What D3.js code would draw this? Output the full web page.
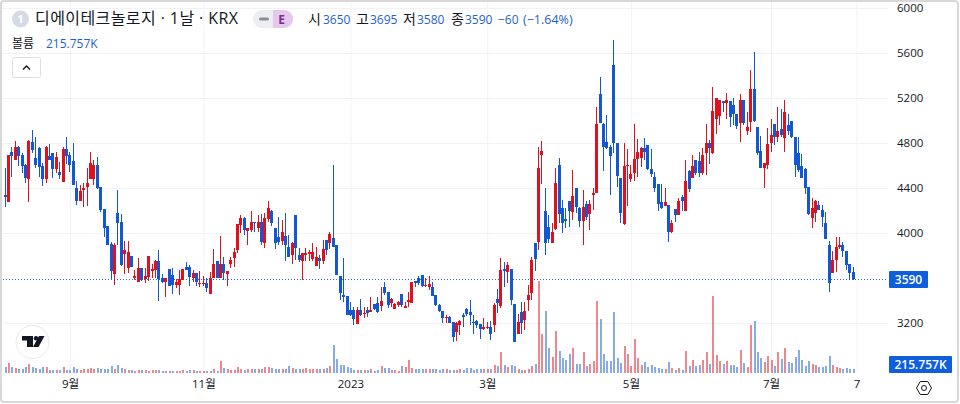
<!DOCTYPE html>
<html>
<head>
<meta charset="utf-8">
<script src="https://cdn.jsdelivr.net/npm/d3@7"></script>
<style>
    html, body { margin: 0; padding: 0; background: #fff; overflow: hidden; }
    svg { display: block; font-family: "Open Sans", "Noto Sans CJK KR", sans-serif; }
    .axis-label text { fill: #131722; font-size: 11.5px; font-family: "Open Sans", "Noto Sans CJK KR", sans-serif; }
    .axis-label path, .axis-label line { display: none; }
    .grid path { display: none; }
    .grid line { stroke: #f1f2f5; }
</style>
</head>
<body>
<div id="chart"></div>
<script>
// daily candles, oldest first
const opens = [
    4337,4278,4720,4648,4761,4693,4604,4480,4806,4666,4755,4595,4480,4684,4708,4568,4542,4453,4746,4693,
    4640,4397,4284,4379,4405,4480,4480,4604,4405,4210,4062,3902,3635,4174,4097,3813,3686,3795,3600,3567,
    3688,3588,3611,3665,3671,3751,3600,3564,3680,3626,3537,3537,3582,3697,3697,3602,3641,3543,3546,3555,
    3454,3597,3751,3602,3724,3638,3724,3774,3848,4071,4130,4020,4026,4095,4047,4101,3914,4124,4195,4047,
    3967,3932,3973,3878,3804,4160,3804,3754,3804,3810,3769,3706,3781,3751,3938,3914,3958,3893,3618,3449,
    3440,3315,3315,3191,3315,3280,3315,3301,3369,3375,3351,3523,3478,3380,3324,3360,3458,3336,3386,3380,
    3573,3597,3626,3526,3523,3517,3449,3360,3309,3241,3250,3206,3123,3182,3268,3321,3298,3209,3221,3188,
    3149,3155,3161,3182,3410,3354,3680,3656,3680,3369,3102,3298,3227,3404,3467,3908,3922,4693,4195,4056,
    3908,4035,4604,4225,4124,4284,4189,4397,4225,4106,4257,4168,4340,4358,5232,4968,4805,4761,5493,4802,
    4485,4077,4595,4479,4530,4657,4669,4758,4779,4565,4494,4435,4275,4242,4248,4008,4210,4162,4322,4198,
    4551,4485,4648,4642,4537,4709,4797,4709,5014,5040,5177,5159,5171,5135,5058,4975,5183,4910,4990,5277,
    4940,4729,4581,4605,4803,4969,4857,4922,4848,4960,4996,4851,4709,4596,4566,4409,4137,4175,4249,4202,
    4089,3894,3642,3760,3873,3894,3840,3725,3650
];
const highs = [
    4575,4693,4761,4815,4773,4708,4613,4826,4915,4850,4761,4619,4773,4791,4708,4723,4634,4761,4850,4720,
    4797,4462,4426,4441,4574,4723,4648,4672,4411,4210,4062,3923,3908,4382,4165,3928,3928,3795,3671,3774,
    3691,3686,3795,3724,3760,3848,3635,3597,3680,3686,3588,3671,3677,3745,3712,3671,3647,3665,3620,3597,
    3656,3854,3754,3973,3783,3662,3789,3863,4080,4160,4139,4041,4195,4101,4160,4166,4175,4284,4204,4047,
    4145,4115,4181,3982,3923,4160,3863,3819,3863,3849,3914,3878,3804,3938,3938,4012,4604,3893,3618,3775,
    3440,3389,3345,3345,3410,3339,3345,3428,3369,3434,3523,3567,3478,3419,3375,3395,3458,3389,3478,3567,
    3576,3618,3626,3597,3618,3564,3449,3366,3309,3271,3262,3212,3206,3226,3286,3336,3404,3271,3226,3188,
    3241,3212,3221,3380,3499,3774,3745,3745,3680,3369,3280,3387,3387,3538,3790,3914,4767,4817,4397,4160,
    4085,4574,4663,4293,4219,4287,4560,4397,4228,4382,4287,4293,4397,5117,5389,4974,5048,4782,5715,4802,
    4485,4797,4743,4604,4968,4832,4767,4841,4782,4743,4539,4435,4435,4397,4248,4115,4213,4314,4337,4648,
    4560,4693,4648,4722,4753,4969,4827,5301,5197,5183,5177,5248,5177,5197,5058,5236,5183,5079,5449,5612,
    4940,4863,4620,4931,5014,4969,5123,5100,5183,5058,4996,4851,4851,4703,4575,4412,4314,4294,4285,4249,
    4190,3929,3843,3968,3968,3923,3843,3725,3695
];
const lows = [
    4235,4278,4500,4648,4595,4536,4447,4278,4708,4574,4500,4420,4447,4648,4491,4530,4480,4453,4613,4545,
    4426,4249,4284,4228,4240,4480,4426,4391,4189,3967,3893,3588,3537,3893,3706,3635,3641,3694,3582,3567,
    3576,3558,3576,3597,3597,3398,3558,3434,3531,3457,3508,3448,3582,3671,3531,3567,3528,3522,3531,3478,
    3454,3597,3602,3602,3582,3531,3686,3700,3819,3997,3982,3893,4012,4012,4012,3893,3869,4101,4065,3858,
    3893,3893,3754,3789,3724,3760,3745,3582,3754,3754,3754,3706,3680,3724,3804,3855,3878,3626,3404,3389,
    3271,3262,3182,3191,3262,3247,3250,3301,3315,3292,3309,3449,3330,3345,3321,3339,3345,3336,3339,3375,
    3517,3538,3517,3517,3493,3440,3351,3301,3203,3203,3197,3034,3043,3093,3167,3262,3182,3099,3152,3055,
    3138,3143,3049,3123,3292,3330,3523,3558,3360,3034,3102,3102,3138,3307,3404,3662,3848,4435,3804,3908,
    3908,4026,4085,4002,4041,4050,4115,4180,4056,3893,4115,4026,4204,4352,4974,4554,4743,4337,4708,4411,
    4091,4071,4242,4456,4465,4500,4583,4648,4560,4500,4367,4195,4210,4240,3922,4002,4100,4160,4198,4195,
    4367,4485,4515,4500,4516,4516,4614,4703,4880,4960,5079,5014,4946,4960,4922,4812,4960,4872,4901,4990,
    4694,4575,4403,4566,4723,4783,4812,4857,4723,4872,4842,4501,4546,4486,4344,4160,4048,4101,4205,4051,
    3944,3479,3642,3657,3858,3790,3672,3583,3580
];
const closes = [
    4317,4693,4687,4761,4687,4598,4491,4817,4737,4604,4589,4480,4767,4648,4568,4678,4515,4746,4687,4604,
    4426,4284,4376,4397,4447,4625,4604,4397,4204,4041,3893,3665,3893,4091,3715,3848,3831,3700,3617,3691,
    3582,3617,3795,3680,3751,3588,3564,3600,3531,3537,3564,3594,3677,3671,3611,3641,3567,3555,3558,3514,
    3597,3724,3602,3724,3641,3662,3760,3831,4080,4130,4026,4041,4095,4086,4095,3917,4130,4219,4092,3908,
    3917,4012,3893,3789,3914,3863,3760,3819,3819,3834,3834,3789,3751,3855,3849,3994,3878,3626,3463,3434,
    3271,3271,3235,3315,3271,3292,3292,3315,3324,3295,3395,3463,3360,3413,3366,3389,3360,3354,3404,3567,
    3552,3552,3529,3538,3547,3440,3360,3309,3241,3250,3203,3078,3203,3218,3256,3280,3271,3203,3182,3146,
    3161,3164,3102,3360,3375,3671,3665,3712,3404,3034,3206,3200,3307,3449,3760,3768,4580,4728,3908,3943,
    4008,4441,4168,4091,4106,4195,4328,4234,4106,4234,4139,4260,4355,4968,4980,4767,4752,4687,4802,4506,
    4180,4595,4604,4524,4654,4722,4752,4722,4565,4524,4397,4257,4225,4275,4011,4091,4160,4281,4287,4462,
    4391,4595,4536,4530,4694,4797,4759,5085,5197,5183,5153,5183,5029,5058,4955,5183,4975,4940,5277,4996,
    4714,4575,4620,4792,4872,4857,4907,4872,5079,4907,4851,4605,4560,4492,4397,4169,4220,4282,4205,4146,
    3944,3553,3760,3876,3894,3843,3716,3642,3590
];
// volume in thousands
const volumes = [
    300,500,285,235,215,215,285,450,285,235,200,285,300,165,165,150,150,300,135,165,
    300,200,165,200,215,250,200,250,185,185,200,365,200,400,250,200,165,150,100,135,
    135,135,100,135,150,135,115,100,100,100,100,100,150,100,135,135,100,115,115,100,
    115,185,85,600,235,185,165,150,300,200,165,185,215,185,185,185,300,300,235,215,
    185,215,215,365,250,200,185,215,235,185,185,185,215,185,265,365,1415,715,400,400,
    300,235,165,135,135,135,135,185,115,165,335,265,235,165,135,100,365,300,635,265,
    200,200,185,200,200,200,200,165,185,215,165,150,165,200,165,235,235,165,215,215,
    215,215,215,415,335,1035,415,300,415,335,200,165,165,200,335,465,4600,1935,3085,1235,
    785,2100,1085,735,665,935,1235,465,465,1035,335,435,585,3585,2685,935,585,585,3035,735,
    485,1335,935,335,1685,735,385,535,285,385,300,235,200,200,535,235,165,235,165,1085,
    335,635,335,385,635,1035,435,3835,885,585,435,585,385,385,285,1135,485,285,2385,2585,
    1035,735,535,835,635,335,1035,685,1235,535,485,785,1135,635,335,585,435,385,285,300,
    335,835,385,285,235,200,235,215,215.757
];
const priceTicks = [6000, 5600, 5200, 4800, 4400, 4000, 3200];
const timeTickIdx = [19, 58, 101, 141, 183, 224, 249];
const timeLabels = ['9월', '11월', '2023', '3월', '5월', '7월', '7'];
const lastPrice = 3590;
const lastVolume = 215.757;

const width = 960, height = 404;
const upColor = '#e0101e', downColor = '#1158d2';
const plotRight = 888, plotBottom = 373;

let svg = d3.select('#chart').append('svg')
    .attr('width', width)
    .attr('height', height);

let x = d3.scaleLinear().domain([0, opens.length - 1]).range([5, 853.2]);
let y = d3.scaleLinear().domain([3200, 6000]).range([323, 8]);
let yVol = d3.scaleLinear().domain([0, 4600]).range([plotBottom, plotBottom - 92]);

// frame
svg.append('rect')
    .attr('x', 1).attr('y', 1)
    .attr('width', 957).attr('height', 401)
    .attr('rx', 3)
    .attr('fill', '#fff')
    .attr('stroke', '#d8d8d8')
    .attr('stroke-width', 2);

// grid
svg.append('g')
    .attr('class', 'grid')
    .attr('transform', 'translate(3,0)')
    .call(d3.axisRight(y).tickValues(priceTicks).tickSize(plotRight - 3).tickFormat(''));
svg.append('g')
    .attr('class', 'grid')
    .attr('transform', 'translate(0,' + plotBottom + ')')
    .call(d3.axisBottom(x).tickValues(timeTickIdx).tickSize(-(plotBottom - 2)).tickFormat(''));

// volume bars
svg.append('g')
    .selectAll('rect')
    .data(volumes)
    .enter()
    .append('rect')
        .attr('x', (d, i) => Math.floor(x(i)) - 0.5)
        .attr('width', 2)
        .attr('y', d => yVol(d))
        .attr('height', d => plotBottom - yVol(d))
        .attr('fill', (d, i) => closes[i] >= opens[i] ? upColor : downColor)
        .attr('fill-opacity', 0.5)
        .attr('shape-rendering', 'crispEdges');

// last price line
svg.append('line')
    .attr('x1', 3).attr('x2', plotRight)
    .attr('y1', Math.round(y(lastPrice)) + 0.5).attr('y2', Math.round(y(lastPrice)) + 0.5)
    .attr('stroke', '#2a6fd8')
    .attr('stroke-dasharray', '1,2');

// candles
let candles = svg.append('g')
    .selectAll('g')
    .data(opens)
    .enter()
    .append('g')
        .attr('fill', (d, i) => closes[i] >= opens[i] ? upColor : downColor)
        .attr('shape-rendering', 'crispEdges');
candles.append('rect')
    .attr('x', (d, i) => Math.floor(x(i)))
    .attr('width', 1)
    .attr('y', (d, i) => y(highs[i]))
    .attr('height', (d, i) => Math.max(1, y(lows[i]) - y(highs[i])));
candles.append('rect')
    .attr('x', (d, i) => Math.floor(x(i)) - 1)
    .attr('width', 3)
    .attr('y', (d, i) => y(Math.max(opens[i], closes[i])))
    .attr('height', (d, i) => Math.max(1, Math.abs(y(opens[i]) - y(closes[i]))));

// axes labels
svg.append('g')
    .attr('class', 'axis-label')
    .attr('transform', 'translate(897,0)')
    .call(d3.axisRight(y).tickValues(priceTicks).tickSize(0).tickPadding(0).tickFormat(d3.format('d')));
svg.append('g')
    .attr('class', 'axis-label')
    .attr('transform', 'translate(0,377)')
    .call(d3.axisBottom(x).tickValues(timeTickIdx).tickSize(0).tickPadding(3)
        .tickFormat((d, i) => timeLabels[i]));

// price and volume tags
const tag = (x0, y0, w, label) => {
    svg.append('rect')
        .attr('x', x0).attr('y', y0)
        .attr('width', w).attr('height', 17)
        .attr('rx', 1)
        .attr('fill', '#0f5fdc');
    svg.append('text')
        .attr('x', x0 + w / 2).attr('y', y0 + 13)
        .attr('text-anchor', 'middle')
        .attr('fill', '#fff')
        .attr('font-size', 12)
        .attr('font-weight', 600)
        .text(label);
};
tag(889, Math.round(y(lastPrice)) - 8, 39, String(lastPrice));
tag(889, 356, 63, lastVolume + 'K');

// settings icon
svg.append('path')
    .attr('d', d3.line().curve(d3.curveLinearClosed)(d3.range(6).map(i => {
        let a = i * Math.PI / 3;
        return [924 + 7.5 * Math.cos(a), 388 + 7.5 * Math.sin(a)];
    })))
    .attr('fill', 'none')
    .attr('stroke', '#131722');
svg.append('circle')
    .attr('cx', 924).attr('cy', 388).attr('r', 2.5)
    .attr('fill', 'none')
    .attr('stroke', '#131722');

// logo
svg.append('circle')
    .attr('cx', 32.5).attr('cy', 342).attr('r', 16.5)
    .attr('fill', '#fff')
    .attr('stroke', '#e8e9ee');
svg.append('path')
    .attr('d', 'M22,336H33V347H27V340.5H22Z M39,336H44.5L38.5,347H33Z')
    .attr('fill', '#131722');
svg.append('circle')
    .attr('cx', 36).attr('cy', 338.2).attr('r', 2.2)
    .attr('fill', '#131722');

// legend
svg.append('circle')
    .attr('cx', 20.5).attr('cy', 19).attr('r', 8.5)
    .attr('fill', '#d6d9e6');
svg.append('text')
    .attr('x', 20.5).attr('y', 23)
    .attr('text-anchor', 'middle')
    .attr('fill', '#fff')
    .attr('font-size', 11)
    .attr('font-weight', 700)
    .text('1');
svg.append('text')
    .attr('x', 35).attr('y', 24)
    .attr('fill', '#131722')
    .attr('font-size', 16)
    .attr('textLength', 203)
    .attr('lengthAdjust', 'spacing')
    .text('디에이테크놀로지 · 1날 · KRX');

// E pill
svg.append('rect')
    .attr('x', 253).attr('y', 10)
    .attr('width', 40).attr('height', 18)
    .attr('rx', 9)
    .attr('fill', '#eceef2');
svg.append('path')
    .attr('d', 'M273,10H284A9,9 0 0 1 284,28H273Z')
    .attr('fill', '#e6c8ee');
svg.append('rect')
    .attr('x', 259).attr('y', 17.5)
    .attr('width', 10).attr('height', 3)
    .attr('rx', 1.5)
    .attr('fill', '#8a8d99');
svg.append('text')
    .attr('x', 281.5).attr('y', 24)
    .attr('text-anchor', 'middle')
    .attr('fill', '#7a2d96')
    .attr('font-size', 12)
    .attr('font-weight', 700)
    .text('E');

// OHLC values
const legendItems = [
    [308, '시', '#131722', 14], [323, '3650', '#1e62c8', 12],
    [356, '고', '#131722', 14], [370, '3695', '#1e62c8', 12],
    [403, '저', '#131722', 14], [417, '3580', '#1e62c8', 12],
    [451, '종', '#131722', 14], [465, '3590', '#1e62c8', 12],
    [498, '−60', '#1e62c8', 12], [523, '(−1.64%)', '#1e62c8', 12.5]
];
svg.append('g')
    .selectAll('text')
    .data(legendItems)
    .enter()
    .append('text')
        .attr('x', d => d[0])
        .attr('y', 24)
        .attr('font-size', d => d[3])
        .attr('fill', d => d[2])
        .text(d => d[1]);

svg.append('text')
    .attr('x', 12).attr('y', 48)
    .attr('fill', '#131722')
    .attr('font-size', 12)
    .text('볼륨');
svg.append('text')
    .attr('x', 46).attr('y', 48)
    .attr('fill', '#1e62c8')
    .attr('font-size', 12)
    .text(lastVolume + 'K');

// collapse button
svg.append('rect')
    .attr('x', 12.5).attr('y', 57.5)
    .attr('width', 28).attr('height', 20)
    .attr('rx', 2)
    .attr('fill', '#fff')
    .attr('stroke', '#dcdee4');
svg.append('path')
    .attr('d', 'M23,69.5L26.5,66L30,69.5')
    .attr('fill', 'none')
    .attr('stroke', '#131722')
    .attr('stroke-width', 1.4);
</script>
</body>
</html>
